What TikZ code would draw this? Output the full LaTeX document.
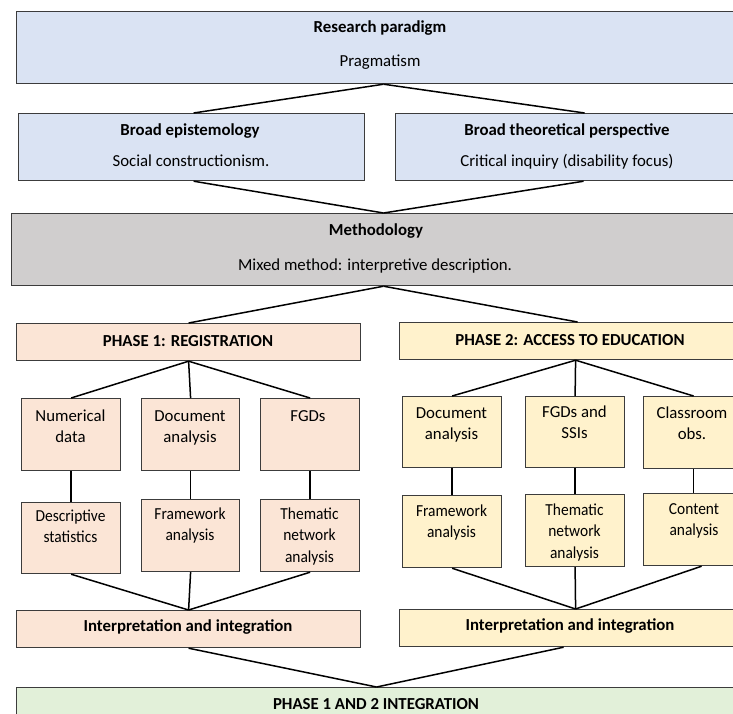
\documentclass[tikz,border=0pt]{standalone}
\usepackage{fontspec}
\setmainfont{Carlito}
\newfontfamily\narrowfont{Carlito}[FakeStretch=0.92]
\definecolor{boxline}{HTML}{3C3C3C}
\definecolor{cblue}{HTML}{DAE3F3}
\definecolor{cgray}{HTML}{D0CECE}
\definecolor{cpeach}{HTML}{FBE5D6}
\definecolor{cyellow}{HTML}{FFF2CC}
\definecolor{cgreen}{HTML}{E2F0D9}
\newcommand\lines[1]{\begin{tabular}[t]{@{}c@{}}#1\end{tabular}}
\tikzset{
  box/.style={draw=boxline, line width=1.2pt, anchor=north west, inner sep=0pt},
  link/.style={draw=black, line width=1.5pt},
  lbl/.style={inner sep=0pt, anchor=base, font=\fontsize{16.8}{21}\selectfont},
  head/.style={lbl, font=\fontsize{16.8}{21}\selectfont\bfseries},
  small/.style={lbl, font=\narrowfont\fontsize{16.8}{21.5}\selectfont},
}
\begin{document}
\begin{tikzpicture}[x=1pt, y=-1pt]
\useasboundingbox (0,0) rectangle (733,713);
\clip (0,0) rectangle (733,713);

% framework levels
\node[box, fill=cblue, minimum width=730pt, minimum height=72pt] (rp) at (16,11) {};
\node[box, fill=cblue, minimum width=346pt, minimum height=67pt] (be) at (18,113) {};
\node[box, fill=cblue, minimum width=346pt, minimum height=67pt] (bt) at (395,113) {};
\node[box, fill=cgray, minimum width=728pt, minimum height=72pt] (meth) at (11,213) {};

% phase headers
\node[box, fill=cpeach, minimum width=344pt, minimum height=37pt] (p1) at (16,323) {};
\node[box, fill=cyellow, minimum width=342pt, minimum height=37pt] (p2) at (399,322) {};

% data sources
\node[box, fill=cpeach, minimum width=99pt, minimum height=72pt] (n1) at (21,398) {};
\node[box, fill=cpeach, minimum width=98pt, minimum height=72pt] (d1) at (141,398) {};
\node[box, fill=cpeach, minimum width=99pt, minimum height=72pt] (f1) at (260,398) {};
\node[box, fill=cyellow, minimum width=99pt, minimum height=71pt] (d2) at (402,396) {};
\node[box, fill=cyellow, minimum width=99pt, minimum height=71pt] (f2) at (525,396) {};
\node[box, fill=cyellow, minimum width=100pt, minimum height=72pt] (c2) at (643,396) {};

% analysis methods
\node[box, fill=cpeach, minimum width=99pt, minimum height=71pt] (ds) at (21,502) {};
\node[box, fill=cpeach, minimum width=98pt, minimum height=72pt] (fa1) at (141,499) {};
\node[box, fill=cpeach, minimum width=99pt, minimum height=72pt] (tn1) at (260,499) {};
\node[box, fill=cyellow, minimum width=99pt, minimum height=72pt] (fa2) at (402,495) {};
\node[box, fill=cyellow, minimum width=99pt, minimum height=72pt] (tn2) at (525,494) {};
\node[box, fill=cyellow, minimum width=100pt, minimum height=72pt] (ca2) at (643,493) {};

% interpretation and final integration
\node[box, fill=cpeach, minimum width=344pt, minimum height=37pt] (i1) at (16,610) {};
\node[box, fill=cyellow, minimum width=342pt, minimum height=37pt] (i2) at (399,609) {};
\node[box, fill=cgreen, minimum width=720pt, minimum height=60pt] (int) at (16,687) {};

% texts
\node[head] (l-rp) at (380,32) {Research paradigm};
\node[lbl] (l-rp2) at (380,66) {Pragmatism};
\node[head] (l-be) at (190,135) {Broad epistemology};
\node[lbl] (l-be2) at (191,166) {Social constructionism.};
\node[head] (l-bt) at (567,135) {Broad theoretical perspective};
\node[lbl] (l-bt2) at (567,166) {Critical inquiry (disability focus)};
\node[head] (l-me) at (376,235) {Methodology};
\node[lbl] (l-me2) at (375,270) {Mixed method: interpretive description.};
\node[head] (l-p1) at (188,346) {PHASE 1: REGISTRATION};
\node[head] (l-p2) at (570,345) {PHASE 2: ACCESS TO EDUCATION};

\node[lbl] (l-n1) at (70.5,421) {\lines{Numerical\\data}};
\node[lbl] (l-d1) at (190,421) {\lines{Document\\analysis}};
\node[lbl] (l-f1) at (308,421) {FGDs};
\node[lbl] (l-d2) at (451.5,418) {\lines{Document\\analysis}};
\node[lbl] (l-f2) at (574.5,417) {\lines{FGDs and\\SSIs}};
\node[lbl] (l-c2) at (692,418) {\lines{Classroom\\obs.}};

\node[small] (l-ds) at (70.5,521) {\lines{Descriptive\\statistics}};
\node[small] (l-fa1) at (190,519) {\lines{Framework\\analysis}};
\node[small] (l-tn1) at (309.5,519) {\lines{Thematic\\network\\analysis}};
\node[small] (l-fa2) at (451.5,516) {\lines{Framework\\analysis}};
\node[small] (l-tn2) at (574.5,515) {\lines{Thematic\\network\\analysis}};
\node[small] (l-ca2) at (694,514) {\lines{Content\\analysis}};

\node[head] (l-i1) at (188,631) {Interpretation and integration};
\node[head] (l-i2) at (570,630) {Interpretation and integration};
\node[head] (l-int) at (376,709) {PHASE 1 AND 2 INTEGRATION};

% connectors
\draw[link] ([xshift=2pt]rp.south) -- ([xshift=2pt]be.north);
\draw[link] ([xshift=2pt]rp.south) -- ([xshift=16pt]bt.north);
\draw[link] ([xshift=2pt]be.south) -- ([xshift=8pt]meth.north);
\draw[link] ([xshift=15pt]bt.south) -- ([xshift=8pt]meth.north);
\draw[link] ([xshift=8pt]meth.south) -- (p1.north);
\draw[link] ([xshift=8pt]meth.south) -- ([xshift=7pt]p2.north);

\draw[link] (p1.south) -- (n1.north);
\draw[link] (p1.south) -- (d1.north);
\draw[link] (p1.south) -- (f1.north);
\draw[link] ([xshift=5pt]p2.south) -- (d2.north);
\draw[link] ([xshift=5pt]p2.south) -- (f2.north);
\draw[link] ([xshift=5pt]p2.south) -- (c2.north);

\draw[link] (n1.south) -- (ds.north);
\draw[link] (d1.south) -- (fa1.north);
\draw[link] (f1.south) -- (tn1.north);
\draw[link] (d2.south) -- (fa2.north);
\draw[link] (f2.south) -- (tn2.north);
\draw[link] (c2.south) -- (ca2.north);

\draw[link] (ds.south) -- (i1.north);
\draw[link] (fa1.south) -- (i1.north);
\draw[link] (tn1.south) -- (i1.north);
\draw[link] (fa2.south) -- ([xshift=5pt]i2.north);
\draw[link] (tn2.south) -- ([xshift=5pt]i2.north);
\draw[link] ([xshift=8pt]ca2.south) -- ([xshift=5pt]i2.north);

\draw[link] (i1.south) -- (int.north);
\draw[link] ([xshift=-7pt]i2.south) -- (int.north);
\end{tikzpicture}
\end{document}
